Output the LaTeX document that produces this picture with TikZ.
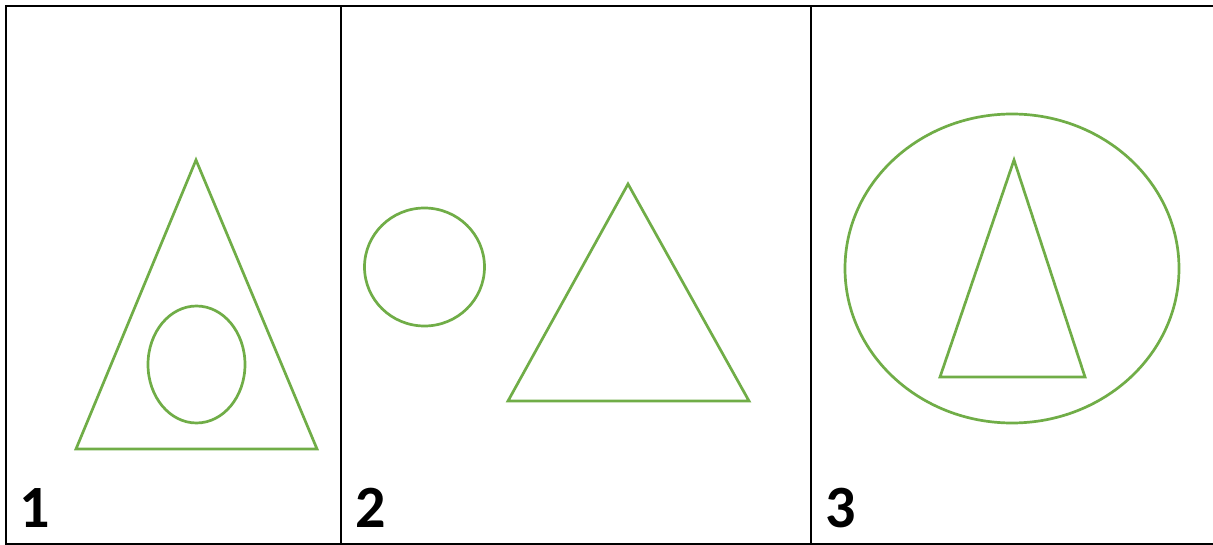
\documentclass[tikz,border=0pt]{standalone}
\usepackage{fontspec}
\setmainfont{Carlito}
\definecolor{shapegreen}{HTML}{70AD47}
\begin{document}
\begin{tikzpicture}[x=1pt,y=-1pt,
  frame/.style={draw=black,line width=2pt},
  greenline/.style={draw=shapegreen,line width=2.7pt,line join=miter},
  numlabel/.style={inner sep=0pt,anchor=base west,font=\fontsize{60}{60}\selectfont\bfseries}]
\useasboundingbox[fill=white] (0,0) rectangle (1213,545);
% table frame
\coordinate (tl) at (6,6);
\coordinate (tr) at (1214,6);
\coordinate (bl) at (6,544);
\coordinate (br) at (1214,544);
\draw[frame] (tr) -- (tl) -- (bl) -- (br);
\coordinate (d1t) at (341,6);
\coordinate (d1b) at (341,544);
\coordinate (d2t) at (811,6);
\coordinate (d2b) at (811,544);
\draw[frame] (d1t) -- (d1b);
\draw[frame] (d2t) -- (d2b);
% panel 1
\draw[greenline] (196,160) -- (76,449) -- (317,449) -- cycle;
\draw[greenline] (196.5,364.5) ellipse [x radius=48.5, y radius=58.5];
% panel 2
\draw[greenline] (424.5,267) ellipse [x radius=60, y radius=59];
\draw[greenline] (628,184) -- (508,401) -- (749,401) -- cycle;
% panel 3
\draw[greenline] (1012,268.5) ellipse [x radius=167, y radius=154.5];
\draw[greenline] (1014,160) -- (940,377) -- (1085,377) -- cycle;
% labels
\node[numlabel] (l1) at (19,527) {1};
\node[numlabel] (l2) at (355,527) {2};
\node[numlabel] (l3) at (825,527) {3};
\end{tikzpicture}
\end{document}
